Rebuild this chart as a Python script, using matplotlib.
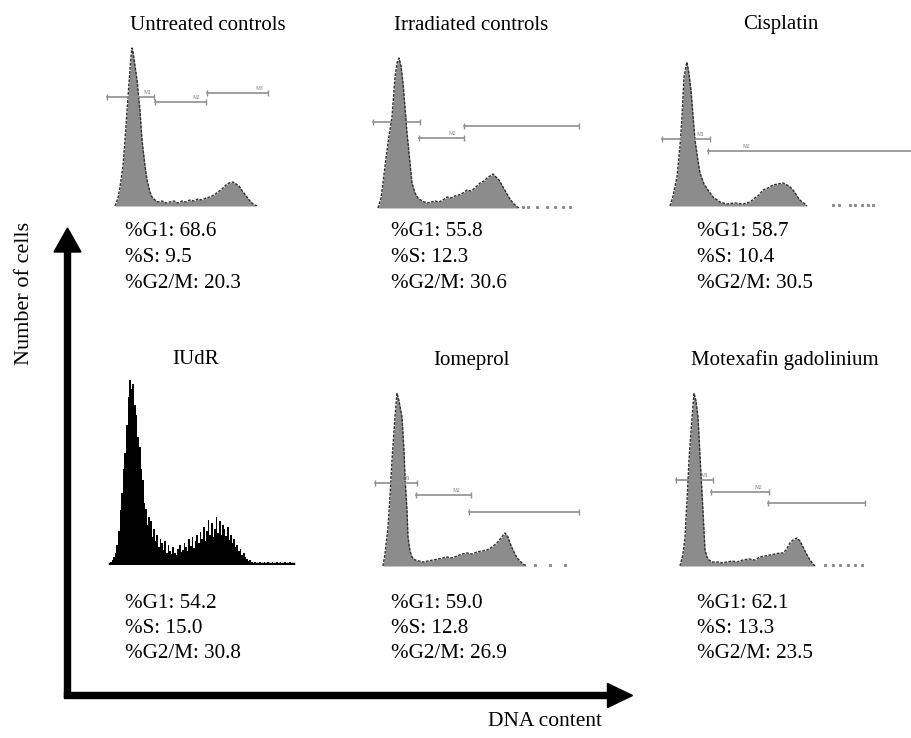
import numpy as np
import matplotlib
matplotlib.use('Agg')
import matplotlib.pyplot as plt

plt.rcParams['font.family'] = ['Liberation Serif', 'DejaVu Serif']

# panel titles and cell cycle percentages
titles = ['Untreated controls', 'Irradiated controls', 'Cisplatin',
          'IUdR', 'Iomeprol', 'Motexafin gadolinium']
g1 = [68.6, 55.8, 58.7, 54.2, 59.0, 62.1]
s_phase = [9.5, 12.3, 10.4, 15.0, 12.8, 13.3]
g2m = [20.3, 30.6, 30.5, 30.8, 26.9, 23.5]

# DNA histograms (channel, count)
untreated_ch = [15, 18, 20, 23, 25, 27, 29, 31, 32, 33, 35, 37, 40, 42, 45, 47, 50, 52, 55, 58,
                62, 66, 70, 74, 78, 82, 86, 90, 94, 98, 102, 106, 110, 114, 118, 122, 126, 129, 133, 136,
                139, 143, 147, 150, 153, 157]
untreated_counts = [0, 8, 19, 40, 66, 95, 123, 150, 158, 154, 140, 126, 95, 66, 40, 26, 14, 9, 6, 4,
                    5, 3, 4, 5, 3, 5, 4, 6, 5, 7, 6, 8, 9, 11, 14, 17, 21, 23, 24, 22,
                    20, 14, 9, 5, 2, 0]

irradiated_ch = [13, 16, 18, 21, 24, 27, 30, 32, 34, 36, 38, 40, 42, 45, 47, 50, 53, 57, 62, 66,
                 70, 74, 78, 82, 86, 90, 94, 98, 102, 106, 110, 115, 119, 122, 125, 128, 131, 134, 138, 142,
                 145, 148, 151, 154]
irradiated_counts = [0, 10, 25, 50, 72, 91, 131, 145, 150, 142, 125, 100, 75, 45, 25, 15, 10, 7, 5, 6,
                     7, 6, 8, 11, 10, 12, 13, 15, 18, 17, 20, 25, 27, 30, 32, 34, 31, 28, 21, 14,
                     9, 5, 2, 0]

cisplatin_ch = [15, 18, 22, 25, 27, 29, 31, 32, 34, 36, 38, 40, 43, 45, 49, 53, 58, 65, 72, 80,
                88, 95, 100, 104, 108, 113, 118, 123, 128, 132, 135, 138, 142, 145, 147, 150, 152]
cisplatin_counts = [0, 10, 29, 60, 89, 129, 140, 144, 132, 116, 90, 66, 45, 33, 22, 16, 9, 4, 2, 3,
                    2, 4, 8, 11, 16, 18, 21, 22, 23, 21, 19, 16, 10, 6, 4, 2, 0]

# IUdR is a noisy black histogram, narrow bins starting at channel 10
iudr_counts = [3, 5, 8, 12, 20, 34, 55, 72, 96, 112, 140, 168, 185, 176, 181, 160, 150, 128,
               118, 96, 85, 62, 56, 40, 48, 44, 28, 36, 24, 30, 18, 26, 22, 15, 24, 12,
               20, 14, 11, 18, 12, 10, 16, 20, 13, 15, 22, 18, 14, 26, 19, 28, 17, 24,
               30, 22, 33, 26, 38, 24, 34, 45, 30, 42, 28, 36, 48, 32, 44, 30, 40, 36,
               29, 38, 25, 30, 22, 26, 18, 20, 14, 16, 10, 12, 8, 6, 4, 5, 3, 2,
               3, 2, 2, 3, 2, 2, 3, 2, 3, 2, 2, 3, 2, 2, 3, 2, 3, 2, 2, 3,
               2, 2, 3, 2]

iomeprol_ch = [18, 20, 23, 25, 27, 29, 30, 32, 34, 37, 39, 40, 42, 43, 45, 47, 50, 54, 58, 63,
               68, 73, 78, 82, 87, 92, 97, 102, 107, 112, 117, 122, 127, 132, 136, 140, 143, 145, 148, 150,
               152, 155, 158, 162]
iomeprol_counts = [0, 12, 39, 70, 106, 135, 149, 173, 165, 149, 115, 89, 55, 29, 15, 9, 6, 5, 4, 5,
                   6, 7, 8, 9, 8, 10, 12, 13, 12, 14, 15, 16, 19, 23, 28, 33, 29, 23, 16, 12,
                   8, 5, 2, 0]

motexafin_ch = [15, 18, 20, 22, 24, 26, 28, 29, 31, 33, 35, 37, 39, 40, 42, 44, 47, 52, 57, 62,
                67, 72, 78, 84, 90, 95, 100, 105, 110, 115, 118, 121, 125, 128, 132, 135, 138, 141, 145, 148,
                150]
motexafin_counts = [0, 12, 29, 65, 106, 135, 160, 173, 165, 149, 110, 73, 35, 16, 9, 6, 4, 4, 3, 4,
                    5, 4, 6, 7, 6, 9, 10, 11, 12, 13, 13, 16, 23, 26, 28, 25, 19, 13, 6, 2,
                    0]

# scattered debris events beyond the G2 peak
debris = [[], [158, 163, 172, 182, 190, 198, 205], [178, 184, 195, 200, 207, 213, 218],
          [], [170, 185, 200], [160, 168, 175, 183, 190, 197]]

# marker gates: (start, end, level, label, label position)
gates = [
    [(7, 54, 109, 'M1', 48), (55, 106, 104, 'M2', 97), (107, 168, 113, 'M3', 160)],
    [(8, 55, 86, 'M1', 40), (54, 99, 70, 'M2', 88), (99, 214, 82, '', 0)],
    [(7, 55, 67, 'M1', 46), (53, 257, 55, 'M2', 92)],
    [],
    [(10, 52, 83, 'M1', 42), (51, 106, 71, 'M2', 92), (104, 214, 54, '', 0)],
    [(11, 48, 86, 'M1', 40), (46, 104, 74, 'M2', 94), (103, 200, 63, '', 0)],
]

W, H = 912, 738
fig = plt.figure(figsize=(W / 100, H / 100), dpi=100)

# background axes in pixel units for arrows and labels
bg = fig.add_axes([0, 0, 1, 1])
bg.set_xlim(0, W)
bg.set_ylim(H, 0)
bg.axis('off')

# panel placement: left edge, baseline, width (pixels)
lefts = [100, 365, 655, 100, 365, 665]
bases = [206, 208, 206, 565, 566, 566]
widths = [180, 220, 257, 200, 220, 210]
ph = 200

hists = [(untreated_ch, untreated_counts), (irradiated_ch, irradiated_counts),
         (cisplatin_ch, cisplatin_counts), None,
         (iomeprol_ch, iomeprol_counts), (motexafin_ch, motexafin_counts)]

for i in range(6):
    ax = fig.add_axes([lefts[i] / W, (H - bases[i]) / H, widths[i] / W, ph / H])
    ax.set_xlim(0, widths[i])
    ax.set_ylim(0, ph)
    ax.axis('off')
    if hists[i] is None:
        ch = np.arange(10, 10 + 1.6 * len(iudr_counts), 1.6)[:len(iudr_counts)]
        ax.bar(ch, iudr_counts, width=1.8, color='black', align='edge')
        ax.plot([ch[0], ch[-1] + 2], [1, 1], color='black', lw=2.5)
    else:
        ch, cnt = hists[i]
        ax.fill_between(ch, cnt, color='#8c8c8c', lw=0)
        ax.plot(ch, cnt, color='#2e2e2e', lw=1.0, ls=(0, (2, 1)))
    if debris[i]:
        ax.plot(debris[i], [1] * len(debris[i]), ls='none', marker='s', ms=1.2, color='#8a8a8a')
    for (a, b, lev, lab, lx) in gates[i]:
        ax.plot([a, b], [lev, lev], color='#8f8f8f', lw=1.2)
        ax.plot([a, b], [lev, lev], ls='none', marker='|', ms=4, color='#8f8f8f')
        if lab:
            ax.text(lx, lev + 2, lab, fontsize=4, color='#777777', ha='center', va='bottom')

# titles
title_x = [208, 471, 781, 196, 471, 785]
title_y = [25, 25, 25, 360, 360, 360]
for i in range(6):
    bg.text(title_x[i], title_y[i], titles[i], fontsize=15, ha='center', va='center')

# percentages below each histogram
stat_x = [125, 391, 697, 125, 391, 697]
stat_y = [232, 232, 232, 603, 603, 603]
for i in range(6):
    lines = ['%G1: ' + f'{g1[i]:.1f}', '%S: ' + f'{s_phase[i]:.1f}', '%G2/M: ' + f'{g2m[i]:.1f}']
    for k, t in enumerate(lines):
        bg.text(stat_x[i], stat_y[i] + 25.5 * k, t, fontsize=15.2, ha='left', va='center')

# axis arrows
bg.arrow(67.5, 698, 0, -470, width=6, head_width=27, head_length=24,
         length_includes_head=True, color='black')
bg.arrow(64.5, 695.5, 568, 0, width=6, head_width=24, head_length=25,
         length_includes_head=True, color='black')
bg.text(25, 293, 'Number of cells', fontsize=16, rotation=90, ha='center', va='center')
bg.text(545, 722, 'DNA content', fontsize=15.5, ha='center', va='center')

plt.savefig('out.png', dpi=100)
